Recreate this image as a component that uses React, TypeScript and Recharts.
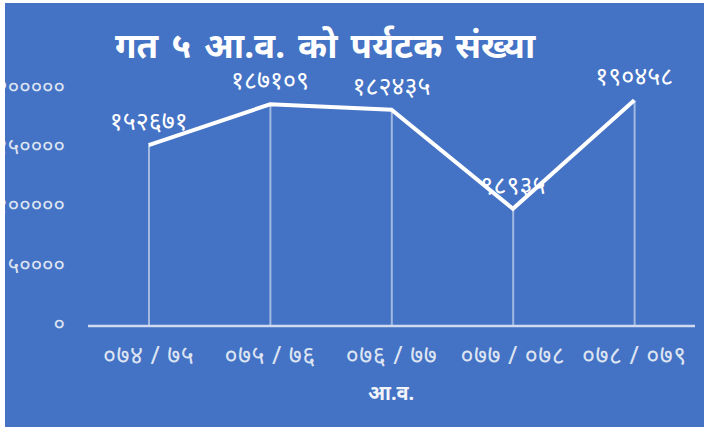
import React from 'react';
import { ComposedChart, Line, Bar, XAxis, YAxis, LabelList } from 'recharts';

const categories = ['०७४ / ७५', '०७५ / ७६', '०७६ / ७७', '०७७ / ०७८', '०७८ / ०७९'];
const touristCounts = [152671, 187109, 182435, 98935, 190458];
const yTicks = [0, 50000, 100000, 150000, 200000];

const chartTitle = 'गत ५ आ.व. को पर्यटक संख्या';
const xAxisTitle = 'आ.व.';

const data = categories.map((c, i) => ({ year: c, value: touristCounts[i] }));

const DEV = ['०', '१', '२', '३', '४', '५', '६', '७', '८', '९'];
const toDev = (n: number | string) => String(n).replace(/[0-9]/g, (d) => DEV[Number(d)]);

const FONT = '"Noto Sans", "Noto Sans Devanagari", sans-serif';
const BG = '#4472C4';

export default function App() {
  return (
    <div
      style={{
        position: 'absolute',
        left: 5,
        top: 3,
        width: 699,
        height: 424,
        background: BG,
        fontFamily: FONT,
        overflow: 'hidden',
      }}
    >
      <div
        style={{
          position: 'absolute',
          left: 110,
          top: 25,
          fontSize: 35,
          fontWeight: 700,
          color: '#ffffff',
          whiteSpace: 'nowrap',
          lineHeight: '34px',
          wordSpacing: 4,
        }}
      >
        {chartTitle}
      </div>
      <ComposedChart
        width={699}
        height={424}
        data={data}
        margin={{ top: 86, right: 9, bottom: 61, left: 0 }}
        barCategoryGap={0}
      >
        <XAxis
          dataKey="year"
          axisLine={{ stroke: '#cfdaee', strokeWidth: 2.5 }}
          tickLine={false}
          tickSize={0}
          tickMargin={20}
          height={40}
          tick={{ fill: '#dde4f2', fontSize: 25, fontFamily: FONT, letterSpacing: 0.5 }}
          interval={0}
        />
        <YAxis
          domain={[0, 200000]}
          ticks={yTicks}
          width={83}
          axisLine={false}
          tickLine={false}
          tickSize={0}
          tickMargin={23}
          tickFormatter={(v: number) => toDev(v)}
          tick={{ fill: '#dde4f2', fontSize: 22, fontFamily: FONT, dy: -2 }}
        />
        <Bar dataKey="value" barSize={2} fill="rgba(255,255,255,0.5)" isAnimationActive={false} />
        <Line
          type="linear"
          dataKey="value"
          stroke="#ffffff"
          strokeWidth={4}
          dot={false}
          isAnimationActive={false}
        >
          <LabelList
            dataKey="value"
            position="top"
            offset={15}
            formatter={(v: number) => toDev(v)}
            style={{ fill: '#ffffff', fontSize: 25, fontFamily: FONT }}
          />
        </Line>
      </ComposedChart>
      <div
        style={{
          position: 'absolute',
          left: 363,
          top: 376,
          fontSize: 20,
          fontWeight: 700,
          color: '#f2f4fa',
          whiteSpace: 'nowrap',
        }}
      >
        {xAxisTitle}
      </div>
    </div>
  );
}
